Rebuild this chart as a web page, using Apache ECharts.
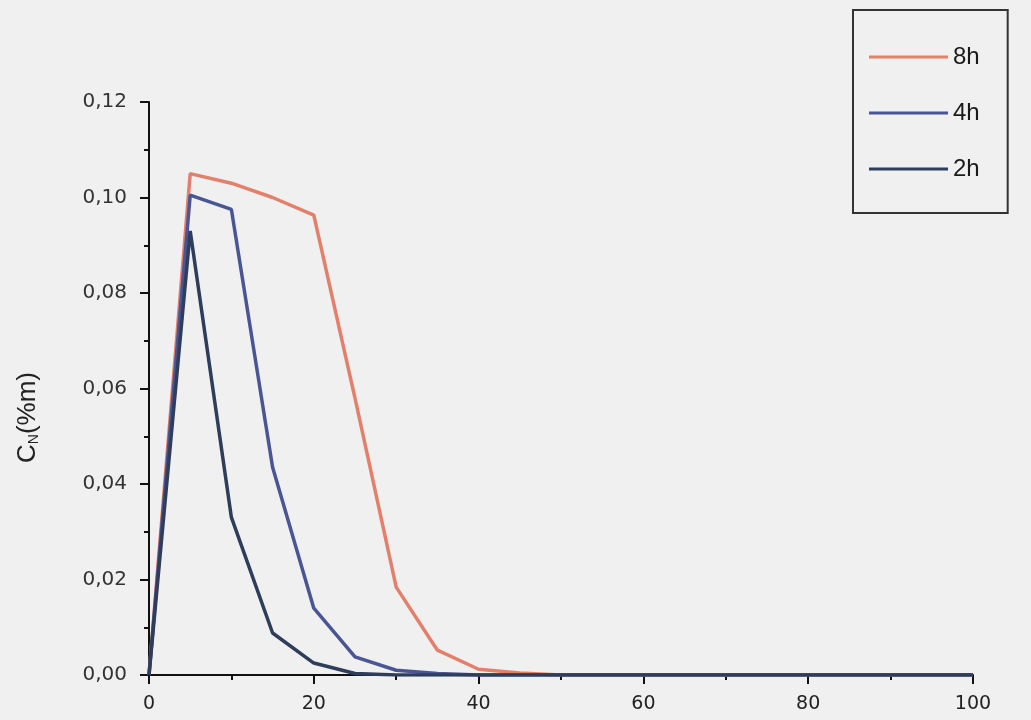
<!DOCTYPE html>
<html>
<head>
<meta charset="utf-8">
<script src="https://cdn.jsdelivr.net/npm/echarts@6/dist/echarts.min.js"></script>
<style>
  html, body { margin: 0; padding: 0; background: #f0f0f0; }
  #main { width: 1031px; height: 720px; }
</style>
</head>
<body>
<div id="main"></div>
<script>
// depth (x) and C_N values for each nitriding time
const depth = [0, 5, 10, 15, 20, 25, 30, 35, 40, 45, 50, 55, 60, 65, 70, 75, 80, 85, 90, 95, 100];
const cn8h = [0, 0.105, 0.103, 0.1, 0.0963, 0.058, 0.0184, 0.0052, 0.0012, 0.0004, 0, 0, 0, 0, 0, 0, 0, 0, 0, 0, 0];
const cn4h = [0, 0.1005, 0.0975, 0.0435, 0.014, 0.0038, 0.001, 0.0003, 0, 0, 0, 0, 0, 0, 0, 0, 0, 0, 0, 0, 0];
const cn2h = [0, 0.093, 0.033, 0.0088, 0.0025, 0.0003, 0, 0, 0, 0, 0, 0, 0, 0, 0, 0, 0, 0, 0, 0, 0];
const seriesNames = ['8h', '4h', '2h'];
const seriesColors = ['#e2806c', '#4a5593', '#2e3d5a'];

function pairs(ys) {
    return depth.map(function (x, i) { return [x, ys[i]]; });
}

const chart = echarts.init(document.getElementById('main'));

const labelFont = 'DejaVu Sans, sans-serif';
const textFont = 'Liberation Sans, Arial, sans-serif';

const option = {
    backgroundColor: '#f0f0f0',
    animation: false,
    grid: { left: 149, right: 58, top: 102, bottom: 45 },
    legend: {
        orient: 'vertical',
        left: 853,
        top: 10,
        padding: [35, 28, 32, 16],
        icon: 'rect',
        itemWidth: 79,
        itemHeight: 3,
        itemGap: 32,
        backgroundColor: '#f0f0f0',
        borderColor: '#333',
        borderWidth: 2,
        textStyle: { fontSize: 24, color: '#1a1a1a', fontFamily: textFont },
        data: seriesNames
    },
    xAxis: {
        type: 'value',
        min: 0,
        max: 100,
        interval: 20,
        splitLine: { show: false },
        axisLine: { onZero: false, lineStyle: { color: '#111', width: 2 } },
        axisTick: { length: 9, lineStyle: { color: '#111', width: 2 } },
        minorTick: { show: true, splitNumber: 2, length: 5, lineStyle: { color: '#111', width: 2 } },
        axisLabel: { margin: 20, fontSize: 19, color: '#222', fontFamily: labelFont }
    },
    yAxis: {
        type: 'value',
        min: 0,
        max: 0.12,
        interval: 0.02,
        splitLine: { show: false },
        axisLine: { show: true, lineStyle: { color: '#111', width: 2 } },
        axisTick: { show: true, length: 9, lineStyle: { color: '#111', width: 2 } },
        minorTick: { show: true, splitNumber: 2, length: 5, lineStyle: { color: '#111', width: 2 } },
        axisLabel: {
            margin: 22,
            fontSize: 20,
            color: '#333',
            fontFamily: labelFont,
            formatter: function (v) { return v.toFixed(2).replace('.', ','); }
        },
        name: '{a|C}{s|N}{a|(%m)}',
        nameLocation: 'middle',
        nameGap: 108,
        nameTextStyle: {
            padding: [0, 58, 0, 0],
            rich: {
                a: { fontSize: 26, color: '#222', fontFamily: textFont },
                s: { fontSize: 14, color: '#222', verticalAlign: 'bottom', padding: [12, 0, 0, 0], fontFamily: textFont }
            }
        }
    },
    series: [
        { name: '8h', type: 'line', data: pairs(cn8h), symbol: 'none', z: 3,
          lineStyle: { color: seriesColors[0], width: 3.5 }, itemStyle: { color: seriesColors[0] } },
        { name: '4h', type: 'line', data: pairs(cn4h), symbol: 'none', z: 4,
          lineStyle: { color: seriesColors[1], width: 3.5 }, itemStyle: { color: seriesColors[1] } },
        { name: '2h', type: 'line', data: pairs(cn2h), symbol: 'none', z: 5,
          lineStyle: { color: seriesColors[2], width: 3.5 }, itemStyle: { color: seriesColors[2] } }
    ]
};

chart.setOption(option);
</script>
</body>
</html>
